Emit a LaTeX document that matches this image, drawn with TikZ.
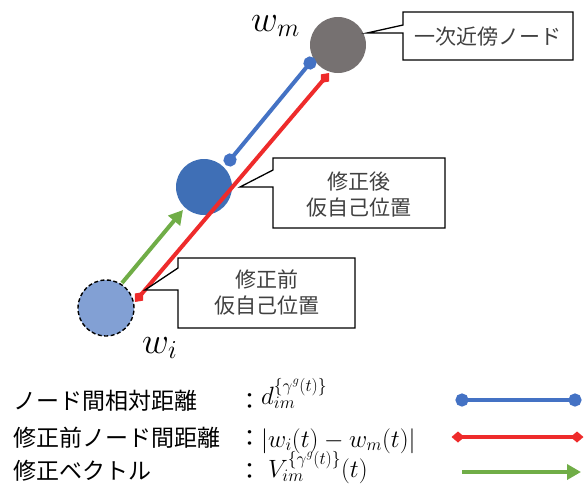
\RequirePackage{fix-cm}
\documentclass[tikz,border=0pt]{standalone}
\usepackage{fontspec}
\newfontfamily\jp{Noto Sans CJK JP}
\usetikzlibrary{arrows.meta}

\definecolor{nodegray}{HTML}{767171}
\definecolor{nodeblue}{HTML}{3F6FB6}
\definecolor{oldblue}{HTML}{82A0D4}
\definecolor{lineblue}{HTML}{4472C4}
\definecolor{linered}{HTML}{EE2B2B}
\definecolor{linegreen}{HTML}{70AD47}
\definecolor{txtgray}{HTML}{404040}

\tikzset{
  vertex/.style={circle, minimum size=56pt, inner sep=0pt},
  callout/.style={draw=black, line width=1.3pt, fill=white, line join=miter},
  calltext/.style={font=\jp\fontsize{21}{26}\selectfont, text=txtgray, align=center, inner sep=0pt},
  legtext/.style={font=\jp\fontsize{23}{28}\selectfont, anchor=base west, inner sep=0pt},
  legmath/.style={font=\fontsize{25}{30}\selectfont, anchor=base west, inner sep=0pt},
  biglabel/.style={font=\fontsize{37}{44}\selectfont, anchor=base west, inner sep=0pt},
  distlink/.style={draw=lineblue, line width=4pt,
    arrows={Circle[length=13pt]-Circle[length=13pt]}},
  rawlink/.style={draw=linered, line width=4pt,
    arrows={Diamond[length=13pt,width=11pt]-Diamond[length=13pt,width=11pt]}},
  fixlink/.style={draw=linegreen, line width=4pt,
    arrows={-Triangle[length=14pt,width=15pt]}},
}

\begin{document}
\begin{tikzpicture}[x=1pt, y=-1pt]
  \useasboundingbox (0,0) rectangle (587,491);

  % node positions
  \node[vertex, fill=nodegray] (wm) at (338,45) {};
  \node[vertex, fill=nodeblue] (wnew) at (204,187) {};
  \node[vertex, fill=oldblue, draw=black, line width=1.4pt,
        dash pattern=on 4pt off 2.5pt] (wi) at (106,308) {};

  \node[biglabel] (wmlab) at (251,31) {$w_m$};
  \node[biglabel] (wilab) at (142,353) {$w_i$};

  % connector end points
  \coordinate (d1) at (225.9,165.0);
  \coordinate (d2) at (314.1,58.0);
  \coordinate (r1) at (134.8,302.0);
  \coordinate (r2) at (329.2,73.0);
  \coordinate (g1) at (122,283);
  \coordinate (g2) at (183,210);

  \draw[distlink] (d1) -- (d2);
  \draw[fixlink] (g1) -- (g2);
  \draw[rawlink] (r1) -- (r2);

  % callouts
  \draw[callout] (403,12) -- (573,12) -- (573,60) -- (403,60) -- (403,33)
    -- (367,33) -- (403,25) -- cycle;
  \node[calltext] (c1) at (488,37) {一次近傍ノード};

  \draw[callout] (273,158) -- (445,158) -- (445,228) -- (273,228) -- (273,187)
    -- (240,187) -- (273,170) -- cycle;
  \node[calltext] (c2) at (359,195) {修正後\\仮自己位置};

  \draw[callout] (178,258) -- (355,258) -- (355,328) -- (178,328) -- (178,290)
    -- (145,290) -- (178,268) -- cycle;
  \node[calltext] (c3) at (266.5,292) {修正前\\仮自己位置};

  % legend
  \node[legtext] (t1) at (13,409) {ノード間相対距離};
  \node[legtext] (t2) at (13,446) {修正前ノード間距離};
  \node[legtext] (t3) at (13,479) {修正ベクトル};

  \node[legtext] (k1) at (238,409) {：};
  \node[legtext] (k2) at (238,446) {：};
  \node[legtext] (k3) at (238,479) {：};

  \node[legmath] (m1) at (261,404) {$d_{im}^{\{\gamma^{g}(t)\}}$};
  \node[legmath] (m2) at (261,447) {$|w_i(t)-w_m(t)|$};
  \node[legmath] (m3) at (268,477) {$V_{im}^{\{\gamma^{g}(t)\}}(t)$};

  \coordinate (la1) at (455.5,400);
  \coordinate (lb1) at (581.5,400);
  \coordinate (la2) at (451.5,437);
  \coordinate (lb2) at (583.5,437);
  \coordinate (la3) at (462,472);
  \coordinate (lb3) at (581,472);

  \draw[distlink] (la1) -- (lb1);
  \draw[rawlink] (la2) -- (lb2);
  \draw[fixlink] (la3) -- (lb3);
\end{tikzpicture}
\end{document}
